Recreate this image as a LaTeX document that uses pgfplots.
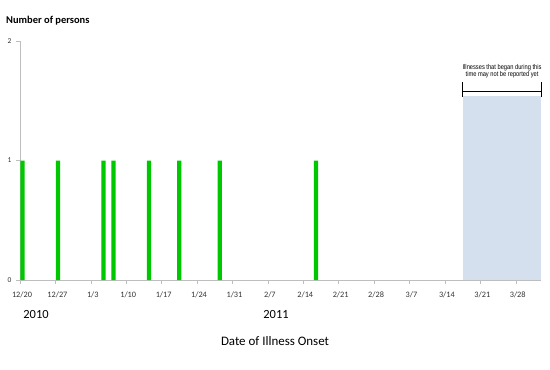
\documentclass[border=0pt]{standalone}
\usepackage{pgfplots}
\pgfplotsset{compat=1.18}
\usepackage{fontspec}
\setmainfont{Carlito}
\newfontfamily\narrowfont[FakeStretch=0.82]{Liberation Sans}
\definecolor{bargreen}{RGB}{0,200,0}
\definecolor{shade}{RGB}{213,224,239}
\definecolor{axgray}{RGB}{190,190,190}
\definecolor{txtgray}{RGB}{50,50,50}
\begin{document}
\begin{tikzpicture}
\useasboundingbox (0,0) rectangle (550bp,-370bp);
\begin{axis}[
  anchor=south west, at={(20bp,-280bp)},
  scale only axis, width=521bp, height=239bp,
  xmin=0, xmax=103, ymin=0, ymax=2,
  axis x line*=bottom, axis y line*=left,
  axis line style={axgray, -},
  tick style={axgray, thin},
  tick align=outside,
  major tick length=4bp,
  ytick={0,1,2},
  xtick={0,7,14,21,28,35,42,49,56,63,70,77,84,91,98},
  xticklabels={12/20,12/27,1/3,1/10,1/17,1/24,1/31,2/7,2/14,2/21,2/28,3/7,3/14,3/21,3/28},
  tick label style={font=\fontsize{8.3}{10}\selectfont, text=txtgray},
  yticklabel style={font=\fontsize{7.5}{9}\selectfont, xshift=-1bp},
  xticklabel style={yshift=-4bp, xshift=2bp},
  /pgf/number format/assume math mode=true,
  clip=false,
]
\addplot[fill=shade, draw=none] coordinates {(87.5,0) (87.5,1.54) (103,1.54) (103,0)} -- cycle;
\addplot[ybar, bar width=4.3bp, fill=bargreen, draw=none] coordinates {
  (0.5,1) (7.5,1) (16.5,1) (18.5,1) (25.5,1) (31.5,1) (39.5,1) (58.5,1)
};
\draw[black, line width=0.5bp] (axis cs:87.5,1.576) -- (axis cs:103,1.576);
\draw[black, line width=0.5bp] (axis cs:87.5,1.53) -- (axis cs:87.5,1.655);
\draw[black, line width=0.5bp] (axis cs:103,1.53) -- (axis cs:103,1.655);
\node[align=center, font=\narrowfont\fontsize{7}{7.2}\selectfont, inner sep=0pt] at (axis cs:95.3,1.745) {Illnesses that began during this\\time may not be reported yet};
\end{axis}
\node[anchor=west, font=\bfseries\fontsize{10.5}{12}\selectfont, inner sep=0pt] at (6bp,-21bp) {Number of persons};
\node[font=\fontsize{12.5}{14}\selectfont, inner sep=0pt] at (36bp,-314bp) {2010};
\node[font=\fontsize{12.5}{14}\selectfont, inner sep=0pt] at (276bp,-314bp) {2011};
\node[font=\fontsize{13}{15}\selectfont, inner sep=0pt] at (275bp,-341bp) {Date of Illness Onset};
\end{tikzpicture}
\end{document}
